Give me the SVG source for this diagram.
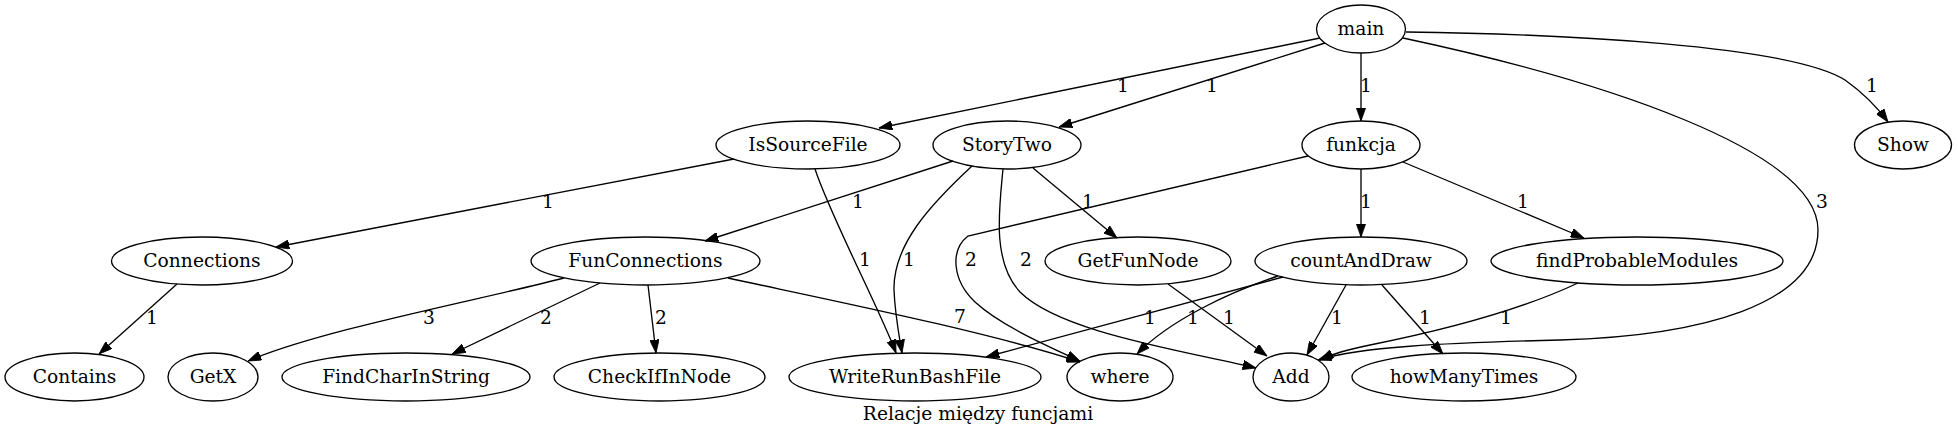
<svg xmlns="http://www.w3.org/2000/svg" width="1958" height="437" viewBox="0 0 1958 437">
<style>
  .node ellipse { fill: none; stroke: #000; stroke-width: 1.33; }
  text { font-family: "DejaVu Serif", "Liberation Serif", serif; font-size: 18.67px; text-anchor: middle; fill: #000; }
  .edge path { fill: none; stroke: #000; stroke-width: 1.33; marker-end: url(#arr); }
</style>
<defs>
  <marker id="arr" markerUnits="userSpaceOnUse" viewBox="0 0 13.3 9.4" refX="13.3" refY="4.7" markerWidth="13.3" markerHeight="9.4" orient="auto">
    <path d="M0,0 L13.3,4.7 L0,9.4 z" fill="#000" stroke="#000" stroke-width="0.8"/>
  </marker>
</defs>
<rect width="1958" height="437" fill="#fff"/>

<g id="connectors">
  <g class="edge" id="e-main-IsSourceFile"><path d="M1320,38 L879,128"/><text x="1123" y="92">1</text></g>
  <g class="edge" id="e-main-StoryTwo"><path d="M1325,43 L1059,127"/><text x="1212" y="92">1</text></g>
  <g class="edge" id="e-main-funkcja"><path d="M1361,53 L1361,121"/><text x="1366" y="92">1</text></g>
  <g class="edge" id="e-main-Show"><path d="M1406,32 C1560,34 1790,45 1845,80 C1862,92 1877,107 1888,122"/><text x="1872" y="92">1</text></g>
  <g class="edge" id="e-main-Add"><path d="M1403,38 C1600,80 1818,150 1818,230 C1818,305 1700,336 1560,340 C1440,343 1360,347 1318,360"/><text x="1822" y="208">3</text></g>
  <g class="edge" id="e-IsSourceFile-Connections"><path d="M734,159 L276,247"/><text x="548" y="208">1</text></g>
  <g class="edge" id="e-IsSourceFile-WriteRunBashFile"><path d="M815,169 C830,215 880,310 896,353"/><text x="865" y="266">1</text></g>
  <g class="edge" id="e-StoryTwo-FunConnections"><path d="M953,161 L705,241"/><text x="858" y="208">1</text></g>
  <g class="edge" id="e-StoryTwo-WriteRunBashFile"><path d="M972,166 C930,205 893,245 894,290 C895,315 899,335 902,353"/><text x="909" y="266">1</text></g>
  <g class="edge" id="e-StoryTwo-Add"><path d="M1003,169 C999,210 992,262 1020,292 C1060,332 1180,350 1256,368"/><text x="1026" y="266">2</text></g>
  <g class="edge" id="e-StoryTwo-GetFunNode"><path d="M1033,168 L1117,238"/><text x="1088" y="208">1</text></g>
  <g class="edge" id="e-funkcja-where"><path d="M1308,156 L968,236 C950,250 952,280 975,302 C1000,325 1045,345 1080,361"/><text x="971" y="266">2</text></g>
  <g class="edge" id="e-funkcja-countAndDraw"><path d="M1361,169 L1361,237"/><text x="1366" y="208">1</text></g>
  <g class="edge" id="e-funkcja-findProbableModules"><path d="M1403,162 L1584,238"/><text x="1523" y="208">1</text></g>
  <g class="edge" id="e-Connections-Contains"><path d="M177,284 L99,354"/><text x="152" y="324">1</text></g>
  <g class="edge" id="e-FunConnections-GetX"><path d="M564,278 C480,300 320,330 248,361"/><text x="429" y="324">3</text></g>
  <g class="edge" id="e-FunConnections-FindCharInString"><path d="M600,283 L452,354"/><text x="546" y="324">2</text></g>
  <g class="edge" id="e-FunConnections-CheckIfInNode"><path d="M648,285 L656,353"/><text x="661" y="324">2</text></g>
  <g class="edge" id="e-FunConnections-where"><path d="M728,278 C820,298 990,332 1080,362"/><text x="960" y="323">7</text></g>
  <g class="edge" id="e-GetFunNode-Add"><path d="M1168,284 L1267,356"/><text x="1229" y="324">1</text></g>
  <g class="edge" id="e-countAndDraw-WriteRunBashFile"><path d="M1283,277 L986,357"/><text x="1150" y="324">1</text></g>
  <g class="edge" id="e-countAndDraw-where"><path d="M1278,276 C1230,292 1170,320 1137,354"/><text x="1193" y="324">1</text></g>
  <g class="edge" id="e-countAndDraw-Add"><path d="M1346,285 L1307,355"/><text x="1337" y="324">1</text></g>
  <g class="edge" id="e-countAndDraw-howManyTimes"><path d="M1382,285 L1443,354"/><text x="1425" y="324">1</text></g>
  <g class="edge" id="e-findProbableModules-Add"><path d="M1578,283 C1510,315 1420,335 1370,345 C1345,350 1330,355 1320,360"/><text x="1506" y="324">1</text></g>
</g>

<g id="n-main" class="node"><ellipse cx="1361" cy="29" rx="44.5" ry="24"/><text x="1361" y="35">main</text></g>
<g id="n-IsSourceFile" class="node"><ellipse cx="808" cy="145" rx="92" ry="24"/><text x="808" y="151">IsSourceFile</text></g>
<g id="n-StoryTwo" class="node"><ellipse cx="1007" cy="145" rx="74" ry="24"/><text x="1007" y="151">StoryTwo</text></g>
<g id="n-funkcja" class="node"><ellipse cx="1361" cy="145" rx="59" ry="24"/><text x="1361" y="151">funkcja</text></g>
<g id="n-Show" class="node"><ellipse cx="1903" cy="145" rx="48.5" ry="24"/><text x="1903" y="151">Show</text></g>
<g id="n-Connections" class="node"><ellipse cx="202" cy="261" rx="90.5" ry="24"/><text x="202" y="267">Connections</text></g>
<g id="n-FunConnections" class="node"><ellipse cx="645.5" cy="261" rx="114.5" ry="24"/><text x="645.5" y="267">FunConnections</text></g>
<g id="n-GetFunNode" class="node"><ellipse cx="1138" cy="261" rx="93" ry="24"/><text x="1138" y="267">GetFunNode</text></g>
<g id="n-countAndDraw" class="node"><ellipse cx="1361" cy="261" rx="106" ry="24"/><text x="1361" y="267">countAndDraw</text></g>
<g id="n-findProbableModules" class="node"><ellipse cx="1637" cy="261" rx="146" ry="24"/><text x="1637" y="267">findProbableModules</text></g>
<g id="n-Contains" class="node"><ellipse cx="74.5" cy="377" rx="69.5" ry="24"/><text x="74.5" y="383">Contains</text></g>
<g id="n-GetX" class="node"><ellipse cx="213" cy="377" rx="45" ry="24"/><text x="213" y="383">GetX</text></g>
<g id="n-FindCharInString" class="node"><ellipse cx="406" cy="377" rx="124" ry="24"/><text x="406" y="383">FindCharInString</text></g>
<g id="n-CheckIfInNode" class="node"><ellipse cx="659.5" cy="377" rx="105.5" ry="24"/><text x="659.5" y="383">CheckIfInNode</text></g>
<g id="n-WriteRunBashFile" class="node"><ellipse cx="915" cy="377" rx="126" ry="24"/><text x="915" y="383">WriteRunBashFile</text></g>
<g id="n-where" class="node"><ellipse cx="1120" cy="377" rx="53" ry="24"/><text x="1120" y="383">where</text></g>
<g id="n-Add" class="node"><ellipse cx="1291" cy="377" rx="38" ry="24"/><text x="1291" y="383">Add</text></g>
<g id="n-howManyTimes" class="node"><ellipse cx="1464" cy="377" rx="112" ry="24"/><text x="1464" y="383">howManyTimes</text></g>

<text id="graph-label" x="978" y="420">Relacje między funcjami</text>
</svg>
